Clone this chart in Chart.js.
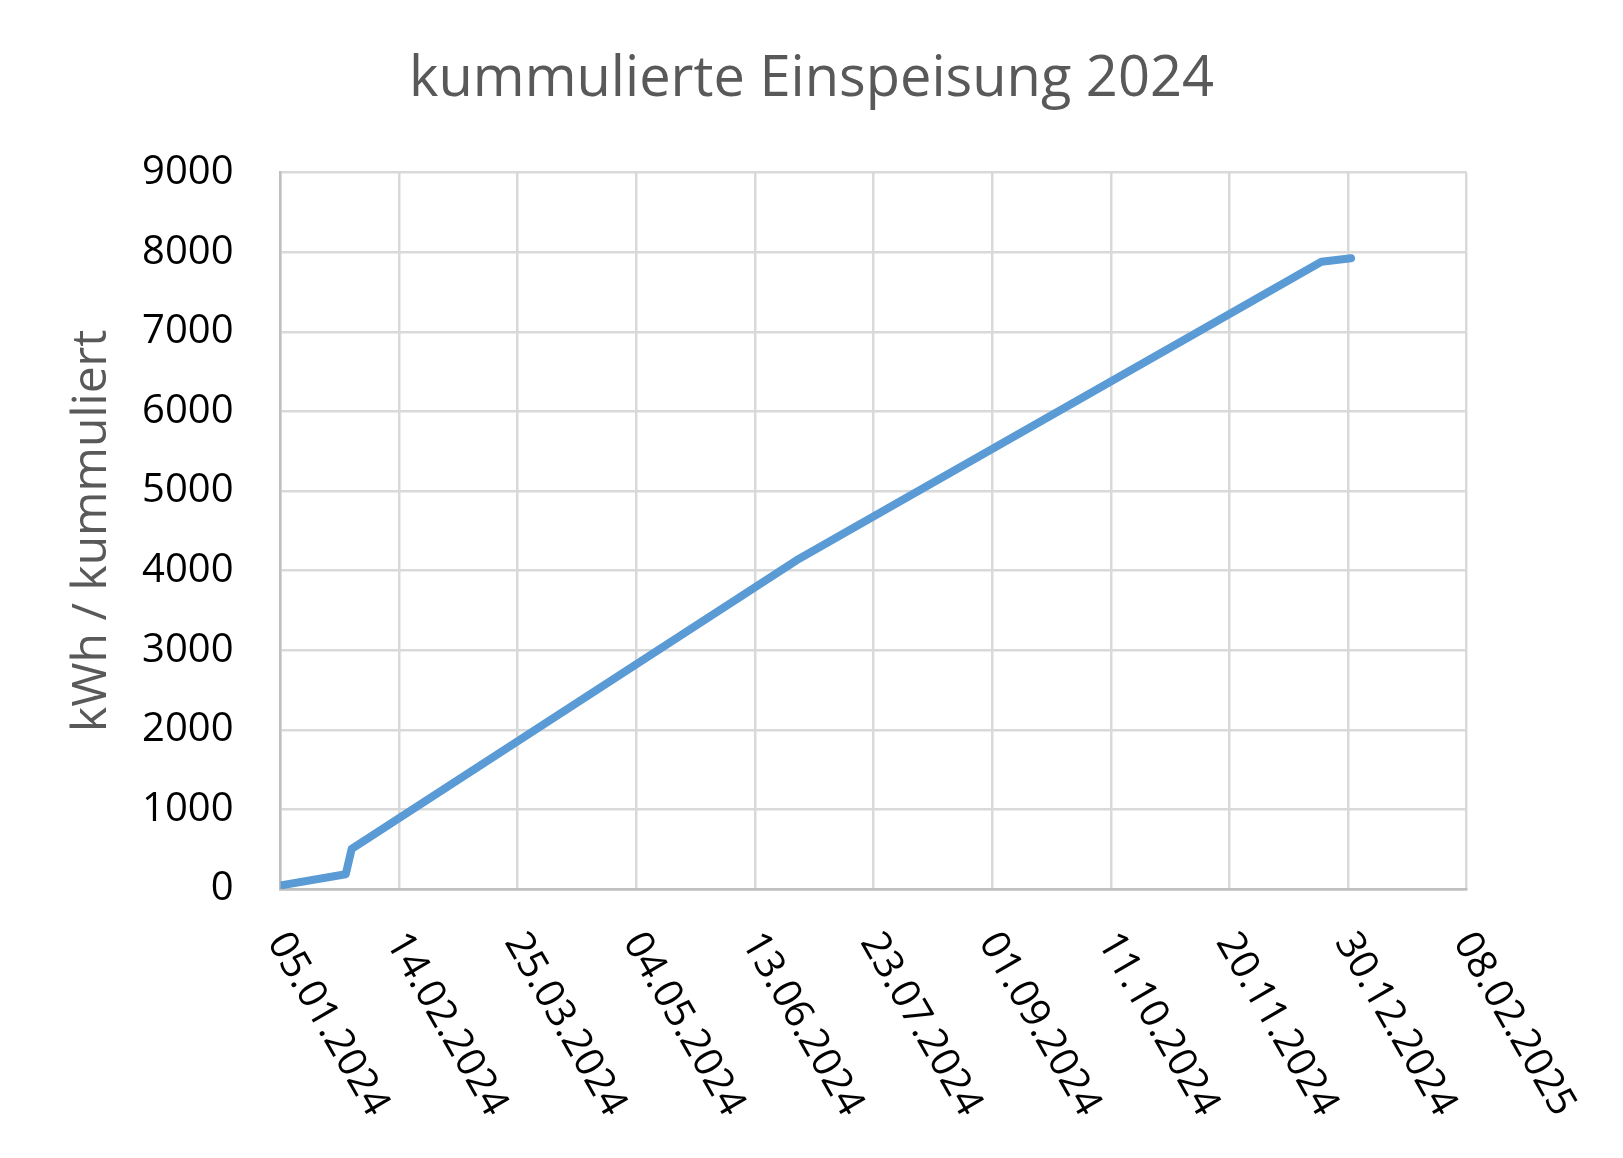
<!DOCTYPE html>
<html>
<head>
<meta charset="utf-8">
<script src="https://cdn.jsdelivr.net/npm/chart.js@4/dist/chart.umd.min.js"></script>
<style>
  html, body { margin: 0; padding: 0; background: #fff; }
  canvas { display: block; }
</style>
</head>
<body>
<canvas id="einspeisungChart" width="1623" height="1158"></canvas>
<script>
// Ablesedaten (Datum, kumulierte kWh)
const dates = ['05.01.2024', '27.01.2024', '29.01.2024', '27.06.2024', '21.12.2024', '31.12.2024'];
const kwh = [45, 185, 505, 4130, 7880, 7925];

// Beschriftung der x-Achse (alle 40 Tage)
const xTickLabels = ['05.01.2024', '14.02.2024', '25.03.2024', '04.05.2024', '13.06.2024', '23.07.2024',
                     '01.09.2024', '11.10.2024', '20.11.2024', '30.12.2024', '08.02.2025'];
const yMax = 9000;
const yStep = 1000;

// dd.mm.yyyy -> Tage seit 1970
function toDay(s) {
    const [d, m, y] = s.split('.').map(Number);
    return Date.UTC(y, m - 1, d) / 86400000;
}

const points = dates.map((d, i) => ({ x: toDay(d), y: kwh[i] }));

// gedrehte Datumsbeschriftung wie in Excel (Text läuft nach rechts unten)
const xLabelPlugin = {
    id: 'xLabels',
    afterDraw(chart) {
        const { ctx, chartArea } = chart;
        const x = chart.scales.x;
        ctx.save();
        ctx.font = '40px "Open Sans"';
        ctx.fillStyle = '#000000';
        ctx.textAlign = 'left';
        ctx.textBaseline = 'middle';
        xTickLabels.forEach(lbl => {
            const px = x.getPixelForValue(toDay(lbl));
            ctx.save();
            ctx.translate(px - 4, chartArea.bottom + 47);
            ctx.rotate(Math.PI / 3);
            ctx.fillText(lbl, 0, 0);
            ctx.restore();
        });
        ctx.restore();
    }
};

const ctx = document.getElementById('einspeisungChart').getContext('2d');

new Chart(ctx, {
    type: 'line',
    data: {
        datasets: [{
            label: 'kummuliert',
            data: points,
            borderColor: '#5b9bd5',
            borderWidth: 8,
            borderCapStyle: 'round',
            borderJoinStyle: 'round',
            pointRadius: 0,
            fill: false,
            tension: 0
        }]
    },
    options: {
        responsive: false,
        devicePixelRatio: 1,
        animation: false,
        layout: { padding: 0 },
        plugins: {
            legend: { display: false },
            tooltip: { enabled: false },
            title: {
                display: true,
                text: 'kummulierte Einspeisung 2024',
                color: '#595959',
                font: { family: 'Open Sans', size: 56, weight: 'normal' },
                padding: { top: 46, bottom: 59.5 }
            }
        },
        scales: {
            x: {
                type: 'linear',
                min: toDay(xTickLabels[0]),
                max: toDay(xTickLabels[xTickLabels.length - 1]),
                ticks: { stepSize: 40, display: false },
                grid: { color: '#d9d9d9', lineWidth: 2.5, drawTicks: false },
                border: { color: '#bfbfbf', width: 2.5 },
                afterFit(scale) { scale.height = 269; }
            },
            y: {
                min: 0,
                max: yMax,
                ticks: {
                    stepSize: yStep,
                    padding: 47,
                    color: '#000000',
                    font: { family: 'Open Sans', size: 40 },
                    callback: v => String(v)
                },
                grid: {
                    color: c => (c.tick && c.tick.value === 0 ? '#bfbfbf' : '#d9d9d9'),
                    lineWidth: 2.5,
                    drawTicks: false
                },
                border: { color: '#bfbfbf', width: 2.5 },
                title: {
                    display: true,
                    text: 'kWh / kummuliert',
                    color: '#595959',
                    font: { family: 'Open Sans', size: 48 },
                    padding: { top: 64, bottom: 0 }
                },
                afterFit(scale) { scale.width = 280.5; }
            },
            // leere Achse rechts, hält nur den Randabstand frei
            yRight: {
                position: 'right',
                display: true,
                grid: { display: false, drawTicks: false },
                border: { display: false },
                ticks: { display: false },
                afterFit(scale) { scale.width = 156.3; }
            }
        }
    },
    plugins: [xLabelPlugin]
});
</script>
</body>
</html>
